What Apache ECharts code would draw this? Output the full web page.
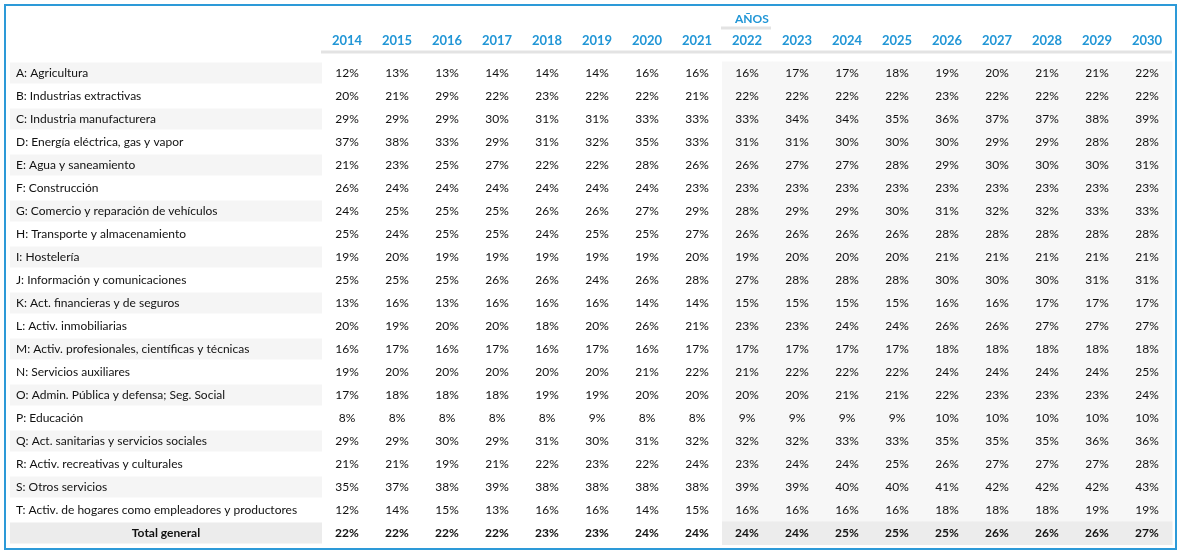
<!DOCTYPE html>
<html>
<head>
<meta charset="utf-8">
<script src="https://cdn.jsdelivr.net/npm/echarts@6/dist/echarts.min.js"></script>
<style>html,body{margin:0;padding:0;background:#fff}#main{width:1180px;height:553px}</style>
</head>
<body>
<div id="main"></div>
<script>
var years = ['2014','2015','2016','2017','2018','2019','2020','2021','2022','2023','2024','2025','2026','2027','2028','2029','2030'];
var sectors = ['A: Agricultura','B: Industrias extractivas','C: Industria manufacturera','D: Energía eléctrica, gas y vapor','E: Agua y saneamiento','F: Construcción','G: Comercio y reparación de vehículos','H: Transporte y almacenamiento','I: Hostelería','J: Información y comunicaciones','K: Act. financieras y de seguros','L: Activ. inmobiliarias','M: Activ. profesionales, científicas y técnicas','N: Servicios auxiliares','O: Admin. Pública y defensa; Seg. Social','P: Educación','Q: Act. sanitarias y servicios sociales','R: Activ. recreativas y culturales','S: Otros servicios','T: Activ. de hogares como empleadores y productores','Total general'];
var A = [12,13,13,14,14,14,16,16,16,17,17,18,19,20,21,21,22];
var B = [20,21,29,22,23,22,22,21,22,22,22,22,23,22,22,22,22];
var C = [29,29,29,30,31,31,33,33,33,34,34,35,36,37,37,38,39];
var D = [37,38,33,29,31,32,35,33,31,31,30,30,30,29,29,28,28];
var E = [21,23,25,27,22,22,28,26,26,27,27,28,29,30,30,30,31];
var F = [26,24,24,24,24,24,24,23,23,23,23,23,23,23,23,23,23];
var G = [24,25,25,25,26,26,27,29,28,29,29,30,31,32,32,33,33];
var H = [25,24,25,25,24,25,25,27,26,26,26,26,28,28,28,28,28];
var I = [19,20,19,19,19,19,19,20,19,20,20,20,21,21,21,21,21];
var J = [25,25,25,26,26,24,26,28,27,28,28,28,30,30,30,31,31];
var K = [13,16,13,16,16,16,14,14,15,15,15,15,16,16,17,17,17];
var L = [20,19,20,20,18,20,26,21,23,23,24,24,26,26,27,27,27];
var M = [16,17,16,17,16,17,16,17,17,17,17,17,18,18,18,18,18];
var N = [19,20,20,20,20,20,21,22,21,22,22,22,24,24,24,24,25];
var O = [17,18,18,18,19,19,20,20,20,20,21,21,22,23,23,23,24];
var P = [8,8,8,8,8,9,8,8,9,9,9,9,10,10,10,10,10];
var Q = [29,29,30,29,31,30,31,32,32,32,33,33,35,35,35,36,36];
var R = [21,21,19,21,22,23,22,24,23,24,24,25,26,27,27,27,28];
var S = [35,37,38,39,38,38,38,38,39,39,40,40,41,42,42,42,43];
var T = [12,14,15,13,16,16,14,15,16,16,16,16,18,18,18,19,19];
var total = [22,22,22,22,23,23,24,24,24,24,25,25,25,26,26,26,27];
var rows = [A,B,C,D,E,F,G,H,I,J,K,L,M,N,O,P,Q,R,S,T,total];

var FONT = 'Lato';
var cells = [];
rows.forEach(function (r, ri) {
  r.forEach(function (v, ci) { cells.push([ci, ri, v]); });
});
var lastRow = rows.length - 1;

var chart = echarts.init(document.getElementById('main'));
chart.setOption({
  animation: false,
  textStyle: { fontFamily: FONT },
  grid: { left: 322, right: 8, top: 61.5, bottom: 8.5 },
  title: {
    text: 'AÑOS', left: 730, top: 8,
    textStyle: { color: '#2196d6', fontSize: 12, fontWeight: 'bold', fontFamily: FONT }
  },
  xAxis: {
    type: 'category', data: years, position: 'top',
    axisLine: { show: false }, axisTick: { show: false }, splitLine: { show: false },
    axisLabel: { color: '#2196d6', fontSize: 13, fontWeight: 'bold', margin: 14, fontFamily: FONT }
  },
  yAxis: {
    type: 'category', data: sectors, inverse: true,
    axisLine: { show: false }, axisTick: { show: false }, splitLine: { show: false },
    axisLabel: {
      align: 'left', margin: 312, fontSize: 12, color: '#111', fontFamily: FONT,
      formatter: function (v) { return v === 'Total general' ? '{t|' + v + '}' : '{n|' + v + '}'; },
      rich: {
        n: { width: 312, align: 'left', padding: [0, 0, 0, 6], fontSize: 12, color: '#111', fontFamily: FONT },
        t: { width: 312, align: 'center', fontWeight: 'bold', fontSize: 12, color: '#111', fontFamily: FONT }
      }
    }
  },
  graphic: [
    { type: 'rect', shape: { x: 5, y: 5, width: 1171, height: 544 }, style: { fill: null, stroke: '#2d9ad8', lineWidth: 2 }, z: 10 },
    { type: 'line', shape: { x1: 321, y1: 52, x2: 1172, y2: 52 }, style: { stroke: '#e3e3e3', lineWidth: 3 } },
    { type: 'line', shape: { x1: 721, y1: 28, x2: 771, y2: 28 }, style: { stroke: '#e3e3e3', lineWidth: 3 } }
  ],
  series: [
    {
      // label column stripes
      type: 'custom', z: 0, silent: true,
      data: sectors.map(function (s, i) { return [0, i]; }),
      renderItem: function (params, api) {
        var ri = api.value(1);
        if (ri % 2 === 1 && ri !== lastRow) return null;
        var p = api.coord([0, ri]);
        var h = api.size([0, 1])[1];
        var x0 = params.coordSys.x;
        return { type: 'rect', shape: { x: 10, y: p[1] - h / 2 + 1, width: x0 - 10, height: h - 2 },
          style: { fill: ri === lastRow ? '#ececec' : '#f5f5f5' } };
      }
    },
    {
      type: 'custom', z: 2, silent: true,
      data: cells,
      renderItem: function (params, api) {
        var ci = api.value(0), ri = api.value(1), v = api.value(2);
        var p = api.coord([ci, ri]);
        var sz = api.size([1, 1]);
        var fill = null;
        if (ci >= 8) fill = ri === lastRow ? '#ececec' : '#f7f7f7';
        var children = [];
        if (fill) children.push({ type: 'rect', shape: { x: p[0] - sz[0] / 2, y: p[1] - sz[1] / 2, width: sz[0] + 0.5, height: sz[1] + 0.5 }, style: { fill: fill } });
        children.push({ type: 'text', style: { x: p[0], y: p[1], text: v + '%', align: 'center', verticalAlign: 'middle',
          fill: '#111', font: (ri === lastRow ? 'bold ' : '') + '12px ' + FONT } });
        return { type: 'group', children: children };
      }
    }
  ]
});
</script>
</body>
</html>
